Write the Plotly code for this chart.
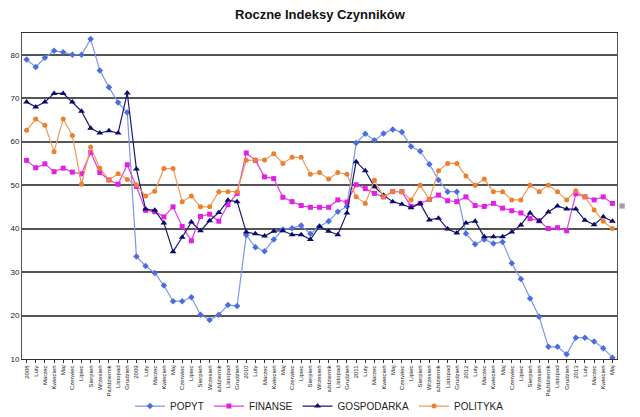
import plotly.graph_objects as go

months = ["Luty", "Marzec", "Kwiecień", "Maj", "Czerwiec", "Lipiec", "Sierpień",
          "Wrzesień", "Październik", "Listopad", "Grudzień"]
years = ["2008", "2009", "2010", "2011", "2012", "2013"]
tick_labels = []
for y in years:
    tick_labels.append(y)
    tick_labels.extend(months)
tick_labels = tick_labels[:65]  # Jan 2008 .. May 2013

popyt = [78.9, 77.2, 79.3, 80.9, 80.6, 80.0, 80.0, 83.6, 76.4, 72.5, 69.0, 66.7,
         33.6, 31.4, 29.8, 26.9, 23.3, 23.3, 24.2, 20.2, 19.0, 20.2, 22.4, 22.2,
         38.5, 35.7, 34.8, 37.5, 39.8, 40.1, 40.7, 38.8, 40.5, 41.7, 43.9, 45.1,
         59.7, 61.8, 60.3, 61.9, 62.8, 62.2, 58.9, 57.8, 54.8, 51.2, 48.5, 48.5,
         38.9, 36.4, 37.5, 36.6, 36.9, 32.0, 28.4, 23.9, 19.7, 12.8, 12.8, 11.1,
         14.9, 14.9, 14.0, 12.5, 10.3]
finanse = [55.7, 54.0, 54.9, 53.1, 53.9, 53.0, 52.6, 57.5, 52.9, 51.2, 50.2, 54.7,
           49.7, 44.2, 43.9, 42.7, 45.0, 40.5, 37.2, 42.8, 43.3, 41.7, 45.5, 48.1,
           57.4, 55.7, 51.9, 51.5, 47.2, 46.2, 45.3, 44.9, 44.9, 44.9, 46.6, 46.1,
           50.1, 49.2, 48.1, 47.3, 48.5, 48.5, 45.1, 45.8, 46.7, 47.7, 46.4, 46.2,
           47.3, 45.3, 45.1, 45.8, 44.7, 44.1, 43.6, 42.3, 41.8, 40.0, 40.2, 39.5,
           48.0, 47.3, 46.6, 47.3, 45.8]
gospodarka = [69.1, 68.0, 69.1, 71.1, 71.1, 69.1, 67.0, 63.1, 62.0, 62.5, 62.0, 71.2,
              53.7, 44.5, 44.2, 41.3, 34.7, 38.0, 41.5, 39.5, 41.8, 43.7, 46.5, 46.2,
              39.2, 38.8, 38.3, 39.4, 39.5, 38.6, 38.6, 37.5, 40.5, 39.4, 38.6, 43.6,
              55.4, 53.3, 49.6, 47.7, 46.2, 45.6, 44.8, 45.8, 42.0, 42.4, 39.9, 39.0,
              41.3, 41.7, 38.1, 38.1, 38.1, 39.2, 40.8, 43.6, 41.7, 43.8, 45.2, 44.5,
              44.5, 41.9, 40.9, 42.7, 41.7]
polityka = [62.6, 65.2, 63.8, 57.7, 65.2, 61.4, 50.2, 58.8, 53.9, 51.2, 52.6, 51.3,
            50.1, 47.5, 48.6, 53.8, 53.8, 46.2, 47.5, 45.0, 45.0, 48.5, 48.5, 48.5,
            55.7, 55.8, 55.8, 57.2, 55.0, 56.4, 56.4, 52.5, 52.9, 51.4, 52.9, 52.5,
            47.3, 45.8, 51.1, 47.3, 48.5, 48.5, 46.6, 50.0, 46.7, 53.3, 55.0, 55.0,
            52.1, 50.0, 51.4, 48.5, 48.5, 46.6, 46.6, 50.0, 48.5, 50.0, 48.5, 46.6,
            48.7, 47.3, 44.3, 41.7, 40.0]

series = [
    ("POPYT", popyt, "#4a6ee0", "#7b97ea", "diamond", 5),
    ("FINANSE", finanse, "#e11fe6", "#e23fe0", "square", 5),
    ("GOSPODARKA", gospodarka, "#0a0a6e", "#1a1a70", "triangle-up", 6),
    ("POLITYKA", polityka, "#ee7f2d", "#ef9a55", "circle", 5),
]

x = list(range(len(tick_labels)))
fig = go.Figure()
for name, vals, mcol, lcol, sym, size in series:
    fig.add_trace(go.Scatter(
        x=x, y=vals, name=name, mode="lines+markers",
        line=dict(color=lcol, width=1.2),
        marker=dict(symbol=sym, size=size, color=mcol, line=dict(width=0)),
    ))

fig.update_layout(
    width=640, height=417,
    margin=dict(l=22, r=23, t=33, b=58, autoexpand=False),
    paper_bgcolor="white", plot_bgcolor="white",
    font=dict(family="Liberation Sans, Arial, sans-serif", color="#000"),
    title=dict(text="<b>Roczne Indeksy Czynników</b>", x=0.5, xanchor="center",
               y=0.966, yanchor="middle", font=dict(size=13, color="#111")),
    showlegend=True,
    legend=dict(orientation="h", x=0.5, xanchor="center", y=-0.10, yanchor="top",
                font=dict(size=10, color="#222"), itemwidth=30,
                tracegroupgap=0),
    shapes=[dict(type="rect", xref="paper", yref="y", x0=1.004, x1=1.013,
                 y0=44.6, y1=45.8, fillcolor="#a0a0a0", line=dict(width=0))],
)
fig.update_xaxes(
    range=[-0.5, len(x) - 0.5], tickmode="array", tickvals=x, ticktext=tick_labels,
    tickangle=-90, tickfont=dict(size=6, color="#222"), showgrid=False,
    showline=True, linecolor="#333", linewidth=1, mirror=True, automargin=False,
    ticks="outside", ticklen=3, tickcolor="#333", zeroline=False,
)
fig.update_yaxes(
    range=[10, 85], tickvals=[10, 20, 30, 40, 50, 60, 70, 80],
    tickfont=dict(size=8, color="#222"), showgrid=True, gridcolor="#555",
    gridwidth=1.5, showline=True, linecolor="#555", linewidth=1, mirror=True,
    ticks="", zeroline=False, automargin=False,
)
fig.write_html("out.html")
